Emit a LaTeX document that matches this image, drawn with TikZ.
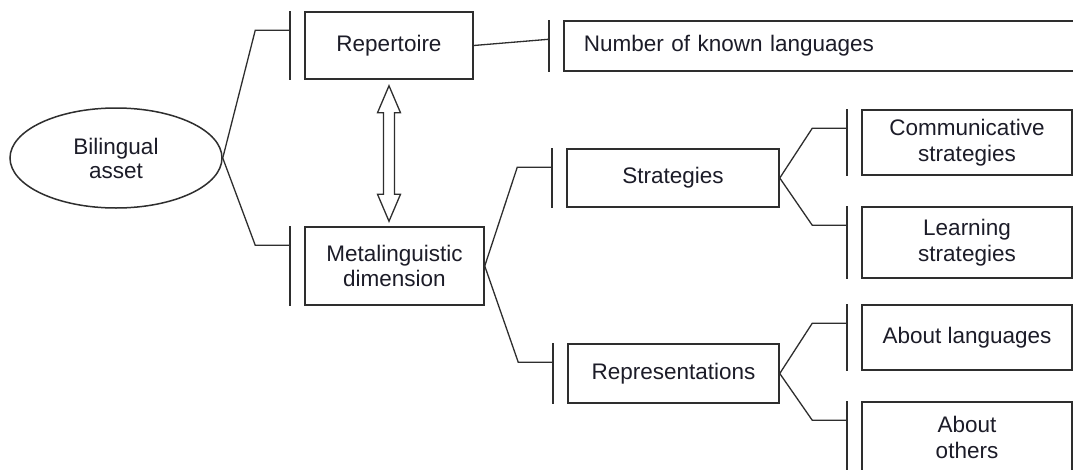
\documentclass[tikz,border=0pt]{standalone}
\usepackage{fontspec}
\setmainfont{Liberation Sans}
\usetikzlibrary{shapes.geometric,calc}
\definecolor{linecol}{HTML}{2E2E2E}
\definecolor{textcol}{HTML}{1C1C28}
\begin{document}
\begin{tikzpicture}[x=1pt,y=-1pt,
  box/.style={draw=linecol,line width=1.5pt,rectangle,inner sep=0pt,align=center,
    text=textcol,font=\fontsize{22.5}{25.5}\selectfont},
  oval/.style={draw=linecol,line width=1.5pt,ellipse,inner sep=0pt,align=center,
    text=textcol,font=\fontsize{22.5}{24}\selectfont,minimum width=212pt,minimum height=100pt},
  barline/.style={draw=linecol,line width=1.8pt},
  conn/.style={draw=linecol,line width=1.3pt,line join=miter},
  dblarrow/.style={draw=linecol,line width=1.3pt,fill=white,line join=miter}]
\fill[white] (0,0) rectangle (1073,469);
\useasboundingbox (0,0) rectangle (1073,469);
\clip (0,0) rectangle (1073,469);

% nodes
\node[oval] (ell) at (116,158) {Bilingual\\asset};
\node[box,minimum width=168pt,minimum height=67pt] (rep) at (389,45.5) {Repertoire};
\node[box,anchor=west,minimum height=50pt,text width=560pt,inner xsep=20pt,align=left] (num) at (563,46) {Number of known languages};
\node[box,minimum width=179pt,minimum height=78pt] (meta) at (394.5,266) {Metalinguistic\\dimension};
\node[box,minimum width=212pt,minimum height=58pt] (strat) at (673,178) {Strategies};
\node[box,minimum width=211pt,minimum height=59pt] (repr) at (673.5,373.5) {Representations};
\node[box,minimum width=210pt,minimum height=65pt] (comm) at (967,142.5) {Communicative\\strategies};
\node[box,minimum width=210pt,minimum height=71pt] (learn) at (967,242.5) {Learning\\strategies};
\node[box,minimum width=210pt,minimum height=65pt] (alang) at (967,337.5) {About languages};
\node[box,minimum width=210pt,minimum height=71pt] (aoth) at (967,437.5) {About\\others};

% bars in front of the boxes
\foreach \n in {rep,num,meta,strat,repr,comm,learn,alang,aoth}
  \draw[barline] ([xshift=-14pt]\n.north west) -- ([xshift=-14pt]\n.south west);

% forked connectors
\foreach \p/\c in {ell/rep,ell/meta,meta/strat,meta/repr,strat/comm,strat/learn,repr/alang,repr/aoth}
  \draw[conn] (\p.east) -- ([xshift=-49pt,yshift=-19pt]\c.north west) -- ([xshift=-14pt,yshift=-19pt]\c.north west);

% straight connector
\draw[conn] (rep.east) -- ([xshift=-14pt,yshift=-19pt]num.north west);

% double arrow between Repertoire and Metalinguistic dimension
\coordinate (at) at ($(rep.south)+(0,6)$);
\coordinate (ab) at ($(rep.south |- meta.north)+(0,-5)$);
\draw[dblarrow] (at) -- ++(11.5,27) -- ++(-6,0) -- ($(ab)+(5.5,-27)$) -- ++(6,0) -- (ab)
  -- ++(-11.5,-27) -- ++(6,0) -- ($(at)+(-5.5,27)$) -- ++(-6,0) -- cycle;
\end{tikzpicture}
\end{document}
